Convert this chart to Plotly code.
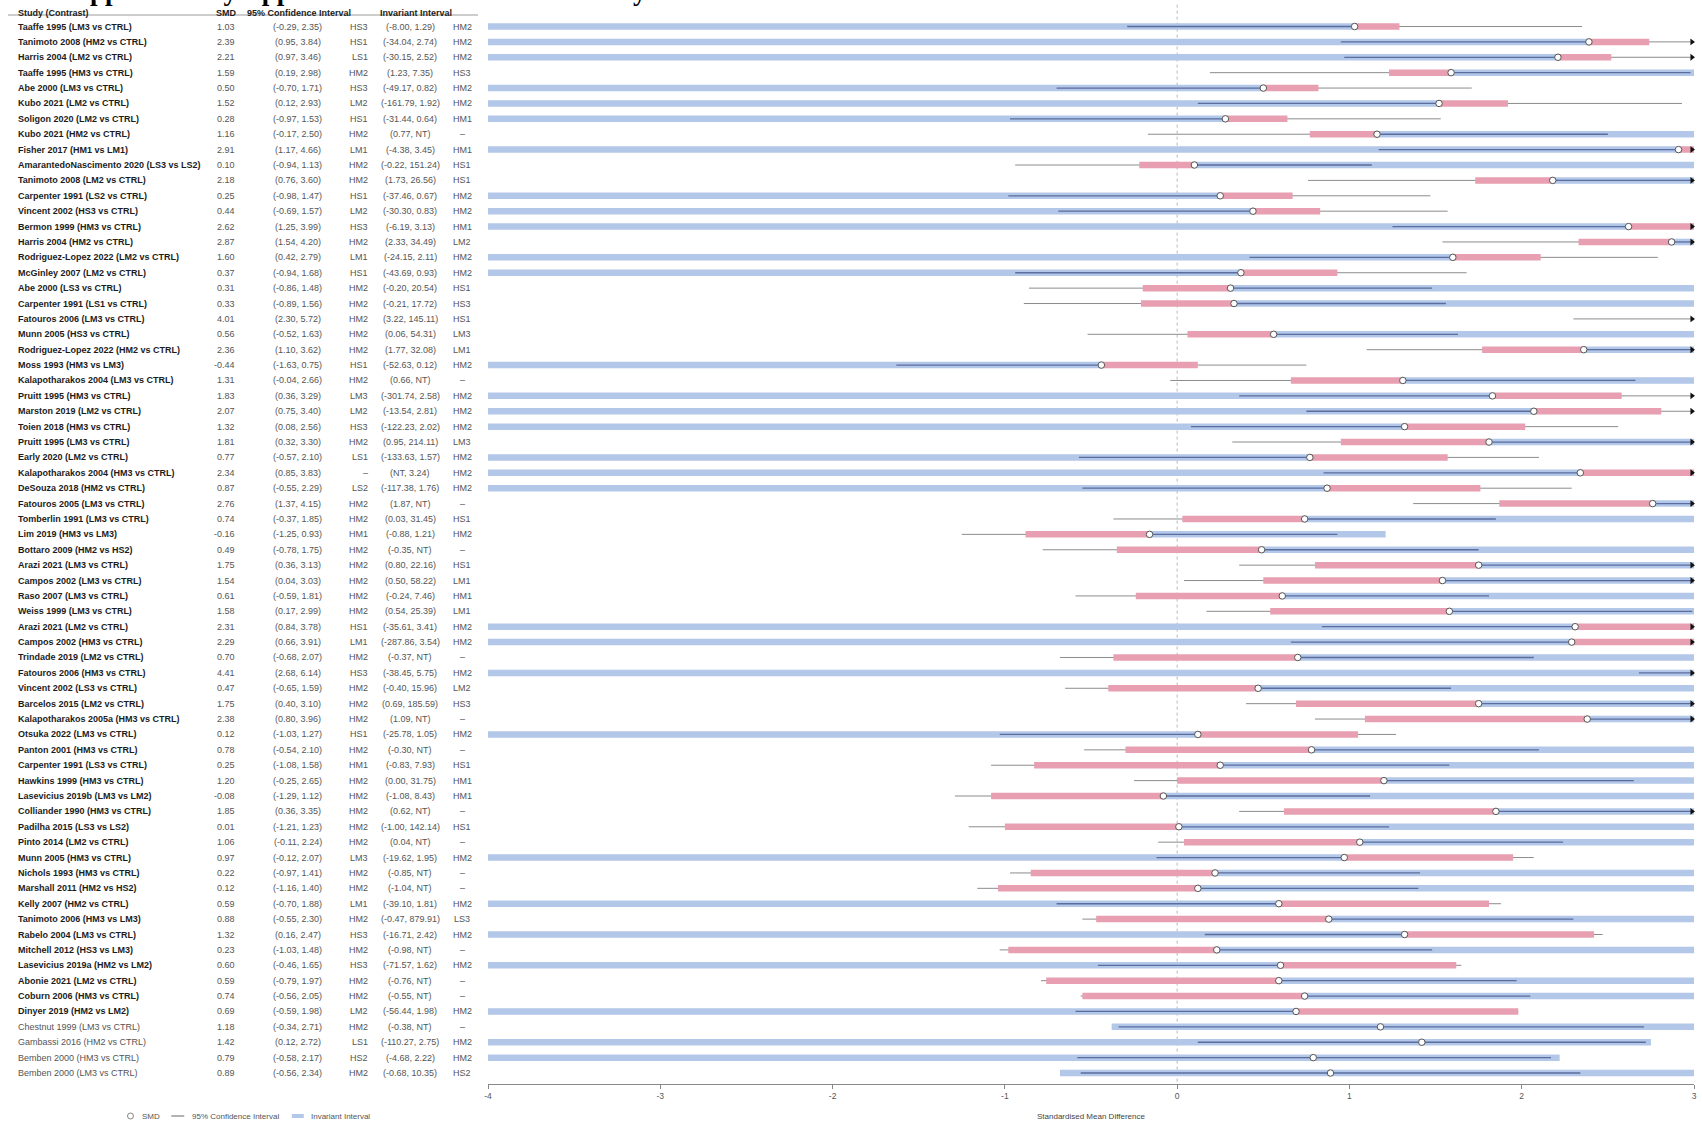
import plotly.graph_objects as go

W, H = 1702, 1121

studies = [
    "Taaffe 1995 (LM3 vs CTRL)", "Tanimoto 2008 (HM2 vs CTRL)", "Harris 2004 (LM2 vs CTRL)",
    "Taaffe 1995 (HM3 vs CTRL)", "Abe 2000 (LM3 vs CTRL)", "Kubo 2021 (LM2 vs CTRL)",
    "Soligon 2020 (LM2 vs CTRL)", "Kubo 2021 (HM2 vs CTRL)", "Fisher 2017 (HM1 vs LM1)",
    "AmarantedoNascimento 2020 (LS3 vs LS2)", "Tanimoto 2008 (LM2 vs CTRL)", "Carpenter 1991 (LS2 vs CTRL)",
    "Vincent 2002 (HS3 vs CTRL)", "Bermon 1999 (HM3 vs CTRL)", "Harris 2004 (HM2 vs CTRL)",
    "Rodriguez-Lopez 2022 (LM2 vs CTRL)", "McGinley 2007 (LM2 vs CTRL)", "Abe 2000 (LS3 vs CTRL)",
    "Carpenter 1991 (LS1 vs CTRL)", "Fatouros 2006 (LM3 vs CTRL)", "Munn 2005 (HS3 vs CTRL)",
    "Rodriguez-Lopez 2022 (HM2 vs CTRL)", "Moss 1993 (HM3 vs LM3)", "Kalapotharakos 2004 (LM3 vs CTRL)",
    "Pruitt 1995 (HM3 vs CTRL)", "Marston 2019 (LM2 vs CTRL)", "Toien 2018 (HM3 vs CTRL)",
    "Pruitt 1995 (LM3 vs CTRL)", "Early 2020 (LM2 vs CTRL)", "Kalapotharakos 2004 (HM3 vs CTRL)",
    "DeSouza 2018 (HM2 vs CTRL)", "Fatouros 2005 (LM3 vs CTRL)", "Tomberlin 1991 (LM3 vs CTRL)",
    "Lim 2019 (HM3 vs LM3)", "Bottaro 2009 (HM2 vs HS2)", "Arazi 2021 (LM3 vs CTRL)",
    "Campos 2002 (LM3 vs CTRL)", "Raso 2007 (LM3 vs CTRL)", "Weiss 1999 (LM3 vs CTRL)",
    "Arazi 2021 (LM2 vs CTRL)", "Campos 2002 (HM3 vs CTRL)", "Trindade 2019 (LM2 vs CTRL)",
    "Fatouros 2006 (HM3 vs CTRL)", "Vincent 2002 (LS3 vs CTRL)", "Barcelos 2015 (LM2 vs CTRL)",
    "Kalapotharakos 2005a (HM3 vs CTRL)", "Otsuka 2022 (LM3 vs CTRL)", "Panton 2001 (HM3 vs CTRL)",
    "Carpenter 1991 (LS3 vs CTRL)", "Hawkins 1999 (HM3 vs CTRL)", "Lasevicius 2019b (LM3 vs LM2)",
    "Colliander 1990 (HM3 vs CTRL)", "Padilha 2015 (LS3 vs LS2)", "Pinto 2014 (LM2 vs CTRL)",
    "Munn 2005 (HM3 vs CTRL)", "Nichols 1993 (HM3 vs CTRL)", "Marshall 2011 (HM2 vs HS2)",
    "Kelly 2007 (HM2 vs CTRL)", "Tanimoto 2006 (HM3 vs LM3)", "Rabelo 2004 (LM3 vs CTRL)",
    "Mitchell 2012 (HS3 vs LM3)", "Lasevicius 2019a (HM2 vs LM2)", "Abonie 2021 (LM2 vs CTRL)",
    "Coburn 2006 (HM3 vs CTRL)", "Dinyer 2019 (HM2 vs LM2)", "Chestnut 1999 (LM3 vs CTRL)",
    "Gambassi 2016 (HM2 vs CTRL)", "Bemben 2000 (HM3 vs CTRL)", "Bemben 2000 (LM3 vs CTRL)",
]

smd = [
    1.03, 2.39, 2.21, 1.59, 0.50, 1.52, 0.28, 1.16, 2.91, 0.10,
    2.18, 0.25, 0.44, 2.62, 2.87, 1.60, 0.37, 0.31, 0.33, 4.01,
    0.56, 2.36, -0.44, 1.31, 1.83, 2.07, 1.32, 1.81, 0.77, 2.34,
    0.87, 2.76, 0.74, -0.16, 0.49, 1.75, 1.54, 0.61, 1.58, 2.31,
    2.29, 0.70, 4.41, 0.47, 1.75, 2.38, 0.12, 0.78, 0.25, 1.20,
    -0.08, 1.85, 0.01, 1.06, 0.97, 0.22, 0.12, 0.59, 0.88, 1.32,
    0.23, 0.60, 0.59, 0.74, 0.69, 1.18, 1.42, 0.79, 0.89,
]

ci_lo = [
    -0.29, 0.95, 0.97, 0.19, -0.70, 0.12, -0.97, -0.17, 1.17, -0.94,
    0.76, -0.98, -0.69, 1.25, 1.54, 0.42, -0.94, -0.86, -0.89, 2.30,
    -0.52, 1.10, -1.63, -0.04, 0.36, 0.75, 0.08, 0.32, -0.57, 0.85,
    -0.55, 1.37, -0.37, -1.25, -0.78, 0.36, 0.04, -0.59, 0.17, 0.84,
    0.66, -0.68, 2.68, -0.65, 0.40, 0.80, -1.03, -0.54, -1.08, -0.25,
    -1.29, 0.36, -1.21, -0.11, -0.12, -0.97, -1.16, -0.70, -0.55, 0.16,
    -1.03, -0.46, -0.79, -0.56, -0.59, -0.34, 0.12, -0.58, -0.56,
]

ci_hi = [
    2.35, 3.84, 3.46, 2.98, 1.71, 2.93, 1.53, 2.50, 4.66, 1.13,
    3.60, 1.47, 1.57, 3.99, 4.20, 2.79, 1.68, 1.48, 1.56, 5.72,
    1.63, 3.62, 0.75, 2.66, 3.29, 3.40, 2.56, 3.30, 2.10, 3.83,
    2.29, 4.15, 1.85, 0.93, 1.75, 3.13, 3.03, 1.81, 2.99, 3.78,
    3.91, 2.07, 6.14, 1.59, 3.10, 3.96, 1.27, 2.10, 1.58, 2.65,
    1.12, 3.35, 1.23, 2.24, 2.07, 1.41, 1.40, 1.88, 2.30, 2.47,
    1.48, 1.65, 1.97, 2.05, 1.98, 2.71, 2.72, 2.17, 2.34,
]

# Invariant interval bounds; None = not terminated (NT)
inv_lo = [
    -8.00, -34.04, -30.15, 1.23, -49.17, -161.79, -31.44, 0.77, -4.38, -0.22,
    1.73, -37.46, -30.30, -6.19, 2.33, -24.15, -43.69, -0.20, -0.21, 3.22,
    0.06, 1.77, -52.63, 0.66, -301.74, -13.54, -122.23, 0.95, -133.63, None,
    -117.38, 1.87, 0.03, -0.88, -0.35, 0.80, 0.50, -0.24, 0.54, -35.61,
    -287.86, -0.37, -38.45, -0.40, 0.69, 1.09, -25.78, -0.30, -0.83, 0.00,
    -1.08, 0.62, -1.00, 0.04, -19.62, -0.85, -1.04, -39.10, -0.47, -16.71,
    -0.98, -71.57, -0.76, -0.55, -56.44, -0.38, -110.27, -4.68, -0.68,
]

inv_hi = [
    1.29, 2.74, 2.52, 7.35, 0.82, 1.92, 0.64, None, 3.45, 151.24,
    26.56, 0.67, 0.83, 3.13, 34.49, 2.11, 0.93, 20.54, 17.72, 145.11,
    54.31, 32.08, 0.12, None, 2.58, 2.81, 2.02, 214.11, 1.57, 3.24,
    1.76, None, 31.45, 1.21, None, 22.16, 58.22, 7.46, 25.39, 3.41,
    3.54, None, 5.75, 15.96, 185.59, None, 1.05, None, 7.93, 31.75,
    8.43, None, 142.14, None, 1.95, None, None, 1.81, 879.91, 2.42,
    None, 1.62, None, None, 1.98, None, 2.75, 2.22, 10.35,
]

lab_lo = [
    "HS3", "HS1", "LS1", "HM2", "HS3", "LM2", "HS1", "HM2", "LM1", "HM2",
    "HM2", "HS1", "LM2", "HS3", "HM2", "LM1", "HS1", "HM2", "HM2", "HM2",
    "HM2", "HM2", "HS1", "HM2", "LM3", "LM2", "HS3", "HM2", "LS1", "–",
    "LS2", "HM2", "HM2", "HM1", "HM2", "HM2", "HM2", "HM2", "HM2", "HS1",
    "LM1", "HM2", "HS3", "HM2", "HM2", "HM2", "HS1", "HM2", "HM1", "HM2",
    "HM2", "HM2", "HM2", "HM2", "LM3", "HM2", "HM2", "LM1", "HM2", "HS3",
    "HM2", "HS3", "HM2", "HM2", "LM2", "HM2", "LS1", "HS2", "HM2",
]

lab_hi = [
    "HM2", "HM2", "HM2", "HS3", "HM2", "HM2", "HM1", "–", "HM1", "HS1",
    "HS1", "HM2", "HM2", "HM1", "LM2", "HM2", "HM2", "HS1", "HS3", "HS1",
    "LM3", "LM1", "HM2", "–", "HM2", "HM2", "HM2", "LM3", "HM2", "HM2",
    "HM2", "–", "HS1", "HM2", "–", "HS1", "LM1", "HM1", "LM1", "HM2",
    "HM2", "–", "HM2", "LM2", "HS3", "–", "HM2", "–", "HS1", "HM1",
    "HM1", "–", "HS1", "–", "HM2", "–", "–", "HM2", "LS3", "HM2",
    "–", "HM2", "–", "–", "HM2", "–", "HM2", "HM2", "HS2",
]

# Contrasts shown in plain type, without the nearest-threshold segment
secondary = {
    "Chestnut 1999 (LM3 vs CTRL)", "Gambassi 2016 (HM2 vs CTRL)",
    "Bemben 2000 (HM3 vs CTRL)", "Bemben 2000 (LM3 vs CTRL)",
}

x_ticks = [-4, -3, -2, -1, 0, 1, 2, 3]
X_MIN, X_MAX = -4, 3

# ---- styling ----
FONT = "Liberation Sans, Arial, sans-serif"
BLUE = "#b3c7e8"
RED = "#e79fb1"
DARK = "#5a6d9e"
GREY_LINE = "#8c8c8c"
TEXT_DARK = "#1c1c1c"
TEXT_NUM = "#555555"

n = len(studies)
rows = list(range(1, n + 1))


# pixel helpers (figure has zero margins, paper == canvas)
def px(x):
    return x / W


def py(y):
    return 1 - y / H


ROW1_PX, ROW_STEP = 26.5, 15.39
AXIS_PX = 1084
y_top = 1 - ROW1_PX / ROW_STEP
y_bot = 1 + (AXIS_PX - ROW1_PX) / ROW_STEP


def row_of(pix):
    return 1 + (pix - ROW1_PX) / ROW_STEP


def clip(v):
    return max(X_MIN - 0.5, min(X_MAX + 0.5, v))


def fmt_pair(a, b):
    fa = "NT" if a is None else f"{a:.2f}"
    fb = "NT" if b is None else f"{b:.2f}"
    return f"({fa}, {fb})"


BIG = 1e4
grey_x, grey_y = [], []
blue_x, blue_y = [], []
red_x, red_y = [], []
dark_x, dark_y = [], []
arrow_y = []

for i in range(n):
    r = rows[i]
    s = smd[i]
    lo = -BIG if inv_lo[i] is None else inv_lo[i]
    hi = BIG if inv_hi[i] is None else inv_hi[i]

    # the stretch between the SMD and the nearer threshold is highlighted
    if studies[i] in secondary:
        blue = (lo, hi)
        red = None
    elif (s - lo) <= (hi - s):
        red = (lo, s)
        blue = (s, hi)
    else:
        red = (s, hi)
        blue = (lo, s)

    grey_x += [clip(ci_lo[i]), clip(min(ci_hi[i], X_MAX)), None]
    grey_y += [r, r, None]

    blue_x += [clip(blue[0]), clip(blue[1]), None]
    blue_y += [r, r, None]

    if red is not None:
        red_x += [clip(red[0]), clip(red[1]), None]
        red_y += [r, r, None]

    d0, d1 = max(ci_lo[i], blue[0]), min(ci_hi[i], blue[1])
    if d1 > d0:
        dark_x += [clip(d0), clip(min(d1, X_MAX)), None]
        dark_y += [r, r, None]

    if ci_hi[i] > X_MAX:
        arrow_y.append(r)

fig = go.Figure()

fig.add_trace(go.Scatter(x=grey_x, y=grey_y, mode="lines",
                         line=dict(color=GREY_LINE, width=1), hoverinfo="skip"))
fig.add_trace(go.Scatter(x=blue_x, y=blue_y, mode="lines",
                         line=dict(color=BLUE, width=6.5), hoverinfo="skip"))
fig.add_trace(go.Scatter(x=dark_x, y=dark_y, mode="lines",
                         line=dict(color=DARK, width=1.3), hoverinfo="skip"))
fig.add_trace(go.Scatter(x=red_x, y=red_y, mode="lines",
                         line=dict(color=RED, width=6.5), hoverinfo="skip"))
fig.add_trace(go.Scatter(x=smd, y=rows, mode="markers",
                         marker=dict(symbol="circle", size=6.5, color="white",
                                     line=dict(color="#555555", width=1)),
                         hoverinfo="skip"))
fig.add_trace(go.Scatter(x=[X_MAX - 0.012] * len(arrow_y), y=arrow_y, mode="markers",
                         marker=dict(symbol="triangle-right", size=6, color="#111111"),
                         cliponaxis=False, hoverinfo="skip"))

shapes = []
# reference line at zero
shapes.append(dict(type="line", xref="x", yref="y", x0=0, x1=0, y0=y_top + 0.3, y1=y_bot,
                   line=dict(color="#9a9a9a", width=0.7, dash="3px,3px"), layer="below"))
# header rule
hdr_rule = row_of(15.0)
shapes.append(dict(type="line", xref="paper", yref="y", x0=px(4), x1=px(476),
                   y0=hdr_rule, y1=hdr_rule, line=dict(color="#9a9a9a", width=1)))

annotations = []


def add_text(text, x_px, y, anchor, size=9, color=TEXT_NUM, bold=False, yref="y", family=FONT):
    annotations.append(dict(
        text=f"<b>{text}</b>" if bold else text,
        x=px(x_px), xref="paper", y=y, yref=yref,
        xanchor=anchor, yanchor="middle", showarrow=False,
        font=dict(family=family, size=size, color=color),
    ))


# column headers
hdr_row = row_of(12.7)
add_text("Study (Contrast)", 12, hdr_row, "left", color=TEXT_DARK, bold=True)
add_text("SMD", 223, hdr_row, "center", color=TEXT_DARK, bold=True)
add_text("95% Confidence Interval", 296, hdr_row, "center", color=TEXT_DARK, bold=True)
add_text("Invariant Interval", 414, hdr_row, "center", color=TEXT_DARK, bold=True)

# table body
for i in range(n):
    r = rows[i]
    main = studies[i] not in secondary
    add_text(studies[i], 12, r, "left", color=TEXT_DARK if main else "#555555", bold=main)
    add_text(f"{smd[i]:.2f}", 234, r, "right")
    add_text(fmt_pair(ci_lo[i], ci_hi[i]), 295, r, "center")
    add_text(lab_lo[i], 368, r, "right")
    add_text(fmt_pair(inv_lo[i], inv_hi[i]), 408, r, "center")
    add_text(lab_hi[i], 460, r, "center")

# title (runs off the top edge of the page)
annotations.append(dict(
    text="<b>S3. Supplementary Appendix: Invariant interval analysis of all contrasts.</b>",
    x=px(12), xref="paper", y=py(8), yref="paper",
    xanchor="left", yanchor="bottom", showarrow=False,
    font=dict(family="Liberation Serif, Times New Roman, serif", size=27, color="#000000"),
))

# x-axis title
annotations.append(dict(
    text="Standardised Mean Difference", x=px((486 + 1697) / 2), xref="paper",
    y=py(1116), yref="paper", xanchor="center", yanchor="middle", showarrow=False,
    font=dict(family=FONT, size=8, color="#444444"),
))

# legend
LEG_Y = 1116
shapes.append(dict(type="circle", xref="paper", yref="paper",
                   x0=px(124), x1=px(130), y0=py(LEG_Y + 3), y1=py(LEG_Y - 3),
                   line=dict(color="#666666", width=0.8), fillcolor="white"))
shapes.append(dict(type="line", xref="paper", yref="paper",
                   x0=px(168), x1=px(181), y0=py(LEG_Y), y1=py(LEG_Y),
                   line=dict(color="#666666", width=1)))
shapes.append(dict(type="rect", xref="paper", yref="paper",
                   x0=px(289), x1=px(301), y0=py(LEG_Y + 2), y1=py(LEG_Y - 2),
                   line=dict(width=0), fillcolor=BLUE))
add_text("SMD", 137, py(LEG_Y), "left", size=8, color="#555555", yref="paper")
add_text("95% Confidence Interval", 187, py(LEG_Y), "left", size=8, color="#555555", yref="paper")
add_text("Invariant Interval", 306, py(LEG_Y), "left", size=8, color="#555555", yref="paper")

fig.update_layout(
    width=W, height=H,
    margin=dict(l=0, r=0, t=0, b=0, pad=0),
    paper_bgcolor="white", plot_bgcolor="white",
    showlegend=False,
    font=dict(family=FONT),
    xaxis=dict(
        domain=[px(486), px(1697)], range=[X_MIN, X_MAX],
        tickvals=x_ticks, ticktext=[str(t) for t in x_ticks],
        ticks="outside", ticklen=4, tickcolor="#888888", tickwidth=1,
        showline=True, linecolor="#888888", linewidth=1,
        showgrid=False, zeroline=False,
        tickfont=dict(family=FONT, size=8.5, color="#555555"),
    ),
    yaxis=dict(
        domain=[py(AXIS_PX), 1.0], range=[y_bot, y_top],
        showticklabels=False, showgrid=False, zeroline=False, showline=False, ticks="",
    ),
    shapes=shapes,
    annotations=annotations,
)

fig.write_html("out.html", config={"displayModeBar": False})
